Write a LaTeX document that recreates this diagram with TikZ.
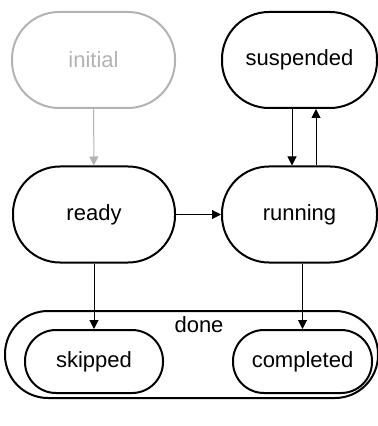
\documentclass[tikz,border=0pt]{standalone}
\usepackage{fontspec}
\setmainfont{Liberation Sans}
\usepackage{tikz}
\usetikzlibrary{arrows.meta,positioning}
\definecolor{lightgray}{HTML}{B3B3B3}
\tikzstyle{state} = [draw, line width=1pt, rounded corners=23.5pt, minimum height=48pt, inner sep=0pt, font=\fontsize{11}{13}\selectfont]
\tikzstyle{substate} = [state, rounded corners=15.5pt, minimum height=31.5pt]
\tikzstyle{trans} = [-{Triangle[length=4.5pt,width=4.5pt]}, line width=0.5pt]

\begin{document}
\begin{tikzpicture}[x=0.5pt, y=-0.5pt]
    \useasboundingbox (0,0) rectangle (378,426);
    % composite state
    \node[state, rounded corners=21.5pt, minimum width=186.5pt, minimum height=43.5pt] (done) at (191.5,354.5) {};
    \node[font=\fontsize{11}{13}\selectfont] (donelabel) at (199,325) {done};
    % states
    \node[state, draw=lightgray, text=lightgray, minimum width=81.5pt] (initial) at (93.5,60) {initial};
    \node[state, minimum width=77.5pt] (suspended) at (299.5,60) {suspended};
    \node[state, minimum width=81pt] (ready) at (94,214.5) {ready};
    \node[state, minimum width=77.5pt] (running) at (299.5,214.5) {running};
    \node[substate, minimum width=69pt] (skipped) at (94,361.5) {skipped};
    \node[substate, minimum width=69.5pt] (completed) at (302.5,361.5) {completed};
    % transitions
    \draw[trans, lightgray] (initial) -- (ready);
    \draw[trans] ([xshift=-3.75pt]suspended.south) -- ([xshift=-3.75pt]running.north);
    \draw[trans] ([xshift=8.25pt]running.north) -- ([xshift=8.25pt]suspended.south);
    \draw[trans] (ready) -- (running);
    \draw[trans] (ready.south) -- (skipped.north);
    \draw[trans] (running.south -| completed.north) -- (completed.north);
\end{tikzpicture}
\end{document}
